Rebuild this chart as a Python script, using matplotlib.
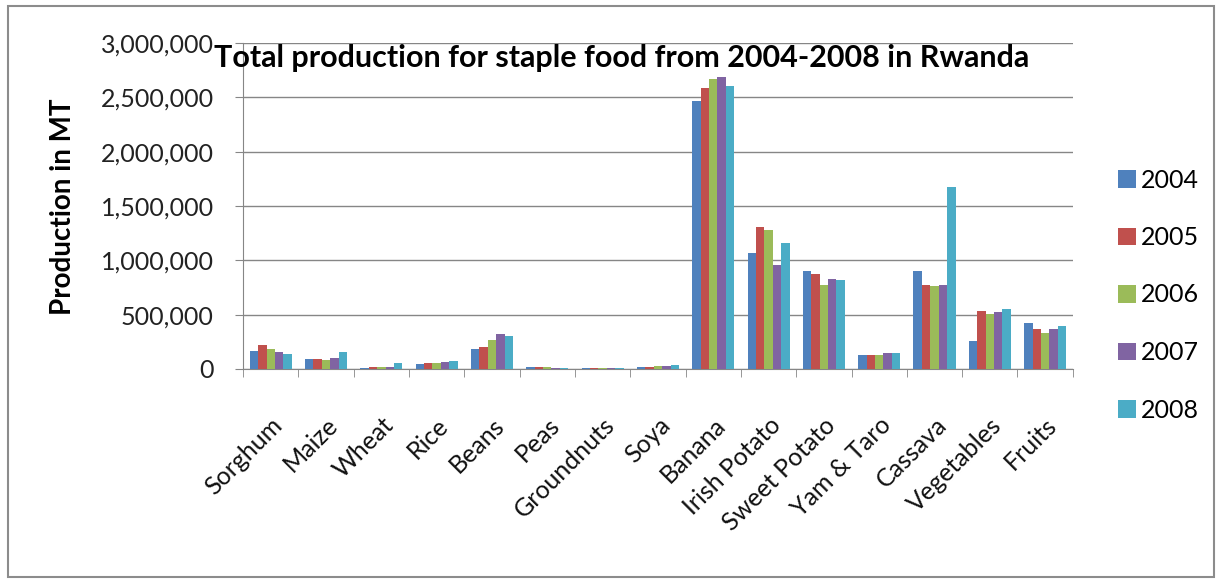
import numpy as np
import matplotlib.pyplot as plt
from matplotlib.patches import Rectangle
from matplotlib.ticker import FuncFormatter

crops = ['Sorghum', 'Maize', 'Wheat', 'Rice', 'Beans', 'Peas', 'Groundnuts', 'Soya',
         'Banana', 'Irish Potato', 'Sweet Potato', 'Yam & Taro', 'Cassava', 'Vegetables', 'Fruits']
years = ['2004', '2005', '2006', '2007', '2008']

# production in metric tonnes, one list per year
prod_2004 = [164000, 88000, 12000, 45000, 188000, 14000, 6000, 20000,
             2463000, 1071000, 903000, 129000, 903000, 257000, 425000]
prod_2005 = [224000, 88000, 14000, 52000, 203000, 15000, 7000, 22000,
             2586000, 1307000, 872000, 129000, 771000, 532000, 367000]
prod_2006 = [188000, 82000, 16000, 56000, 270000, 14000, 7000, 26000,
             2668000, 1282000, 771000, 129000, 762000, 505000, 327000]
prod_2007 = [158000, 97000, 22000, 62000, 324000, 13000, 8000, 30000,
             2684000, 955000, 832000, 144000, 771000, 526000, 367000]
prod_2008 = [142000, 158000, 58000, 72000, 300000, 12000, 8000, 38000,
             2607000, 1160000, 817000, 144000, 1674000, 551000, 395000]

colors = ['#4F81BD', '#C0504D', '#9BBB59', '#8064A2', '#4BACC6']
series = [prod_2004, prod_2005, prod_2006, prod_2007, prod_2008]

plt.rcParams['font.family'] = ['Lato', 'DejaVu Sans']

fig = plt.figure(figsize=(12.22, 5.8), dpi=100)
ax = fig.add_axes([0.1989, 0.3638, 0.679, 0.5621])

x = np.arange(len(crops))
bw = 0.76 / 5
for i, (vals, c, yr) in enumerate(zip(series, colors, years)):
    ax.bar(x + (i - 2) * bw, vals, width=bw, color=c, label=yr, zorder=3)

ax.set_xlim(-0.5, len(crops) - 0.5)
ax.set_ylim(0, 3000000)
ax.set_yticks(np.arange(0, 3000001, 500000))
ax.yaxis.set_major_formatter(FuncFormatter(lambda v, p: f'{int(v):,}'))
ax.grid(axis='y', color='#868686', linewidth=1.0, zorder=0)

# category labels hang below the axis, tick marks sit between categories
ax.set_xticks(x)
ax.set_xticklabels(crops, rotation=45, ha='right', va='top', rotation_mode='anchor',
                   fontsize=18, color='#111111')
ax.set_xticks(np.arange(-0.5, len(crops), 1), minor=True)
ax.tick_params(axis='x', which='major', length=0, pad=32)
ax.tick_params(axis='x', which='minor', length=6, color='#868686')
ax.tick_params(axis='y', length=6, color='#868686', labelsize=18, labelcolor='#222222', pad=15)

for s in ['top', 'right']:
    ax.spines[s].set_visible(False)
for s in ['left', 'bottom']:
    ax.spines[s].set_color('#868686')

fig.text(63 / 1222, 1 - 207 / 580, 'Production in MT', rotation=90, ha='center', va='center',
         fontsize=20, fontweight='bold')

fig.text(0.509, 0.9, 'Total production for staple food from 2004-2008 in Rwanda',
         ha='center', va='center', fontsize=22, fontweight='bold')

handles, labels = ax.get_legend_handles_labels()
fig.legend(handles, labels, loc='center left', bbox_to_anchor=(1118 / 1222, 1 - 295 / 580),
           frameon=False, fontsize=18, borderpad=0, borderaxespad=0,
           handlelength=0.7, handleheight=0.7, handletextpad=0.2, labelspacing=1.38)

# light frame round the whole chart
fig.patches.append(Rectangle((0.0065, 0.005), 0.987, 0.985, transform=fig.transFigure,
                             fill=False, edgecolor='#8c8c8c', linewidth=1.5))

fig.savefig('out.png', dpi=100)
